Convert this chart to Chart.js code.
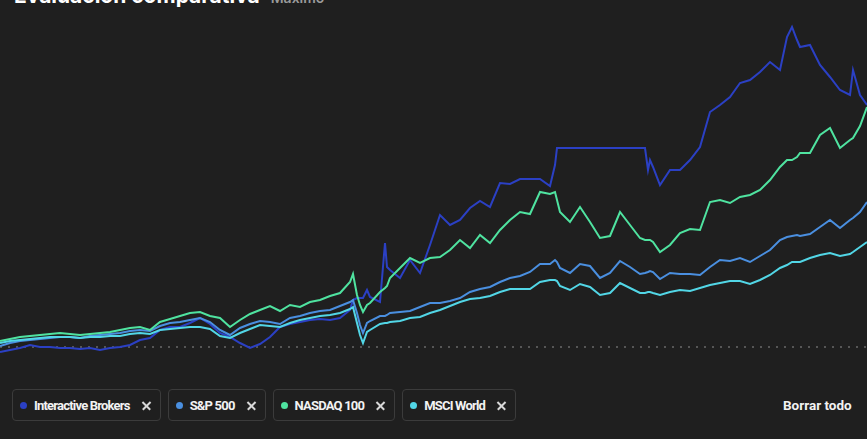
<!DOCTYPE html>
<html>
<head>
<meta charset="utf-8">
<script src="https://cdn.jsdelivr.net/npm/chart.js@4.4.1/dist/chart.umd.min.js"></script>
<style>
  body { margin:0; background:#1f1f1f; width:867px; height:439px; overflow:hidden; position:relative;
         font-family: "Roboto", "Liberation Sans", sans-serif; }
  #title { position:absolute; left:14px; top:-17px; color:#fff; font:bold 21px "Inter", "Roboto", sans-serif; white-space:nowrap; }
  #title span { color:#9a9a9a; font-size:14px; font-weight:600; margin-left:6px; }
  #wrap { position:absolute; left:0; top:0; width:867px; height:370px; }
  #legend { position:absolute; left:12px; top:389px; display:flex; }
  .chip { height:30px; border:1px solid #3b3b3b; border-radius:4px; display:flex; align-items:center; margin-right:7px;
          padding:0 9px 0 7px; color:#f2f2f2; font-weight:bold; font-size:13px; }
  .chip span { letter-spacing:-0.8px; white-space:nowrap; }
  .dot { width:7px; height:7px; border-radius:50%; margin-right:7px; flex:none; }
  .x { margin-left:12px; width:9px; height:9px; position:relative; flex:none; }
  .x:before, .x:after { content:""; position:absolute; left:-1px; top:4px; width:11px; height:1.5px; background:#d8d8d8; }
  .x:before { transform:rotate(45deg); } .x:after { transform:rotate(-45deg); }
  #clear { position:absolute; left:783px; top:397px; color:#f2f2f2; font-weight:bold; font-size:13.5px; }
</style>
</head>
<body>
<div id="title">Evaluación comparativa <span>Máximo</span></div>
<div id="wrap"><canvas id="myChart" width="867" height="370"></canvas></div>
<div id="legend"></div>
<div id="clear">Borrar todo</div>
<script>
/* datos: rentabilidad acumulada (%) por semana */
const days = [0,10,20,30,40,50,60,70,80,90,100,110,120,130,140,150,160,170,180,190,200,210,220,230,240,250,260,270,280,290,300,310,320,330,340,
  350,353,357,360,363,367,370,
  380,385,387,
  390,400,410,420,430,440,450,460,470,480,490,500,510,520,530,540,550,
  555,557,
  560,570,580,590,600,610,620,630,640,
  645,648,650,653,
  660,670,680,690,700,710,720,730,740,750,760,770,780,
  787,792,797,
  800,810,820,830,840,850,
  853,860,867];

const names = ['Interactive Brokers', 'S&P 500', 'NASDAQ 100', 'MSCI World'];
const colors = ['#2b40c4', '#4a8fe0', '#4fe3a0', '#52d6e6'];

const ibkr = [-5,-3,-1,2,0,0,-1,-1,-2,-1,-3,-1,0,2,7,9,17,20,20,24,29,23,14,10,4,-1,3,10,20,23,25,27,28,27,29,
  37,47,49,49,49,57,50,
  45,104,80,
  77,69,87,74,102,132,122,127,139,146,140,164,163,168,168,168,161,
  182,199,
  199,199,199,199,199,199,199,199,199,
  199,177,187,180,
  162,177,177,187,200,235,242,250,264,267,275,285,277,
  310,320,307,
  300,302,282,270,257,252,
  277,252,242];

const sp500 = [1,4,6,7,8,9,10,10,9,11,12,13,14,16,17,16,21,24,25,27,29,25,17,12,19,23,26,25,23,29,31,34,36,37,41,
  45,47,34,22,14,24,26,
  31,31,32,
  34,35,36,40,44,44,46,49,55,58,60,65,69,71,75,83,83,
  87,85,
  79,74,83,81,69,74,86,80,73,
  74,75,76,75,
  68,74,73,73,72,80,87,86,89,85,91,97,107,
  110,111,112,
  111,113,120,127,119,127,
  129,135,145];

const nasdaq = [6,8,10,11,12,13,14,13,12,13,14,15,17,19,20,17,25,28,31,34,35,31,29,20,27,33,37,41,36,42,40,45,47,51,54,
  65,73,52,42,35,42,44,
  55,59,61,
  69,79,89,84,89,90,97,107,99,112,104,117,127,135,133,155,153,
  155,147,
  135,125,140,125,109,111,135,122,109,
  107,107,107,105,
  95,102,114,118,117,145,147,144,150,152,157,167,180,
  187,187,190,
  194,194,212,219,199,207,
  209,221,240];

const msci = [4,6,7,8,9,10,10,10,9,10,10,11,11,13,14,13,17,18,19,20,20,18,11,9,14,18,22,21,20,24,27,29,31,32,34,
  38,40,24,12,4,15,17,
  23,24,24,
  25,26,29,30,34,37,41,45,48,49,51,55,58,58,58,65,67,
  67,66,
  61,57,63,60,52,54,64,59,54,
  54,55,55,54,
  52,55,57,56,59,62,64,66,66,63,67,72,79,
  82,85,85,
  85,89,92,94,91,93,
  95,100,105];

const series = [ibkr, sp500, nasdaq, msci];

/* leyenda */
const legend = document.getElementById('legend');
names.forEach((n, i) => {
  const chip = document.createElement('div');
  chip.className = 'chip';
  chip.innerHTML = '<div class="dot" style="background:' + colors[i] + '"></div><span></span><div class="x"></div>';
  chip.querySelector('span').textContent = n;
  legend.appendChild(chip);
});

/* grafico */
const toXY = arr => arr.map((v, i) => ({ x: days[i], y: v }));
const datasets = series.map((arr, i) => ({
  label: names[i],
  data: toXY(arr),
  borderColor: colors[i],
  borderWidth: 2,
  pointRadius: 0,
  tension: 0
})).reverse();

datasets.push({
  label: 'base',
  data: [{ x: 0, y: 0 }, { x: 867, y: 0 }],
  borderColor: '#6a6a6a',
  borderWidth: 1.5,
  borderDash: [2, 6],
  pointRadius: 0
});

const ctx = document.getElementById('myChart');
var config = {
  type: 'line',
  data: { datasets: datasets },
  options: {
    responsive: false,
    animation: false,
    layout: { padding: 0 },
    plugins: { legend: { display: false }, tooltip: { enabled: false } },
    scales: {
      x: { type: 'linear', display: false, min: 0, max: 867 },
      y: { display: false, min: -23, max: 347 }
    }
  }
};

var myChart = new Chart(ctx, config);
</script>
</body>
</html>
